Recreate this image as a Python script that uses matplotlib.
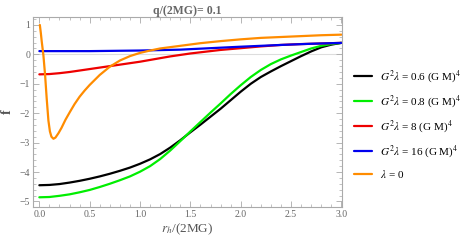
import numpy as np
import matplotlib
matplotlib.use("Agg")
import matplotlib.pyplot as plt
from matplotlib.ticker import MultipleLocator

plt.rcParams['font.family'] = ['Liberation Serif', 'DejaVu Serif']
plt.rcParams['mathtext.fontset'] = 'stix'

# ---- data ----
x_black = [0.0, 0.1, 0.2, 0.3, 0.4, 0.5, 0.6, 0.7, 0.8, 0.9, 1.0, 1.1, 1.2, 1.3, 1.4, 1.5, 1.6, 1.7,
           1.8, 1.9, 2.0, 2.1, 2.2, 2.3, 2.4, 2.5, 2.6, 2.7, 2.8, 2.9, 3.0]
f_black = [-4.45, -4.44, -4.41, -4.36, -4.30, -4.23, -4.15, -4.06, -3.96, -3.85, -3.72, -3.57, -3.39, -3.17, -2.92, -2.65, -2.39, -2.12,
           -1.85, -1.56, -1.27, -1.00, -0.77, -0.58, -0.40, -0.23, -0.06, 0.10, 0.24, 0.33, 0.39]

x_green = [0.0, 0.1, 0.2, 0.3, 0.4, 0.5, 0.6, 0.7, 0.8, 0.9, 1.0, 1.1, 1.2, 1.3, 1.4, 1.5, 1.6, 1.7,
           1.8, 1.9, 2.0, 2.1, 2.2, 2.3, 2.4, 2.5, 2.6, 2.7, 2.8, 2.9, 3.0]
f_green = [-4.86, -4.85, -4.81, -4.76, -4.69, -4.61, -4.51, -4.40, -4.28, -4.15, -3.99, -3.80, -3.56, -3.27, -2.95, -2.62, -2.30, -1.98,
           -1.67, -1.35, -1.05, -0.77, -0.53, -0.33, -0.17, -0.04, 0.08, 0.20, 0.29, 0.35, 0.39]

x_red = [0.0, 0.1, 0.2, 0.3, 0.4, 0.5, 0.6, 0.7, 0.8, 0.9, 1.0, 1.1, 1.2, 1.3, 1.4, 1.5, 1.6, 1.7, 1.8,
         2.0, 2.2, 2.4, 2.6, 2.8, 3.0]
f_red = [-0.68, -0.67, -0.64, -0.60, -0.55, -0.50, -0.45, -0.40, -0.35, -0.30, -0.25, -0.19, -0.13, -0.07, -0.02, 0.03, 0.07, 0.11, 0.15,
         0.21, 0.27, 0.32, 0.35, 0.37, 0.39]

x_blue = [0.0, 0.5, 1.0, 1.4, 1.7, 2.0, 2.4, 2.7, 3.0]
f_blue = [0.11, 0.11, 0.13, 0.16, 0.21, 0.26, 0.32, 0.36, 0.39]

x_orange = [0.005, 0.015, 0.024, 0.04, 0.057, 0.073, 0.09, 0.105, 0.12, 0.14, 0.16, 0.19, 0.22, 0.26, 0.305,
            0.35, 0.40, 0.45, 0.50, 0.60, 0.70, 0.80, 0.90, 1.0, 1.1, 1.2, 1.4, 1.6, 1.8, 2.0, 2.2, 2.4, 2.6, 2.8, 3.0]
f_orange = [1.0, 0.72, 0.43, -0.02, -0.70, -1.50, -2.25, -2.62, -2.80, -2.87, -2.83, -2.68, -2.50, -2.22, -1.95,
            -1.69, -1.44, -1.23, -1.04, -0.70, -0.42, -0.21, -0.06, 0.05, 0.13, 0.20, 0.29, 0.38, 0.45, 0.51, 0.56, 0.59, 0.62, 0.65, 0.67]

labels = [r"$G^2\lambda$ = 0.6 (G M)$^4$",
          r"$G^2\lambda$ = 0.8 (G M)$^4$",
          r"$G^2\lambda$ = 8 (G M)$^4$",
          r"$G^2\lambda$ = 16 (G M)$^4$",
          r"$\lambda$ = 0"]
colors = ["#000000", "#00ee00", "#ee0000", "#0000ee", "#ff8c00"]

series = [(x_black, f_black), (x_green, f_green), (x_red, f_red), (x_blue, f_blue), (x_orange, f_orange)]

fig = plt.figure(figsize=(4.72, 2.45), dpi=100)
ax = fig.add_axes([33/472, 1-207/245, (342-33)/472, (207-17)/245])

ax.axhline(0, color='#dddddd', lw=0.8, zorder=0)
handles = []
for i in range(5):
    x, f = series[i]
    h, = ax.plot(x, f, color=colors[i], lw=1.6, label=labels[i],
                 solid_capstyle='round', solid_joinstyle='round')
    handles.append(h)

ax.set_xlim(-0.063, 3.006)
ax.set_ylim(-5.19, 1.27)
ax.xaxis.set_major_locator(MultipleLocator(0.5))
ax.xaxis.set_minor_locator(MultipleLocator(0.1))
ax.yaxis.set_major_locator(MultipleLocator(1))
ax.yaxis.set_minor_locator(MultipleLocator(0.2))
ax.xaxis.set_major_formatter(matplotlib.ticker.FormatStrFormatter('%.1f'))
ax.yaxis.set_major_formatter(matplotlib.ticker.FuncFormatter(
    lambda v, p: '%d' % v if v >= 0 else '\u2212%d' % (-v)))

for s in ax.spines.values():
    s.set_color('#aaaaaa')
    s.set_linewidth(0.8)
ax.tick_params(which='both', direction='in', top=True, right=True, color='#aaaaaa',
               labelcolor='#666666', labelsize=7, pad=2)
ax.tick_params(which='major', length=4, width=0.6)
ax.tick_params(which='minor', length=2, width=0.5)

ax.set_title("q/(2MG)= 0.1", fontsize=8.5, fontweight='bold', color='#666666', pad=2)
ax.set_xlabel(r"$r_h$/(2MG)", fontsize=9.5, color='#555555', labelpad=2)
ax.set_ylabel("f", fontsize=10, fontweight='bold', color='#555555', labelpad=4)

leg = fig.legend(handles=handles, labels=labels, loc='upper left',
                 bbox_to_anchor=(350/472, 1-64/245), frameon=False,
                 fontsize=8, handlelength=1.6, handletextpad=0.7,
                 labelspacing=0.75, borderaxespad=0)

fig.savefig("out.png", dpi=100)
